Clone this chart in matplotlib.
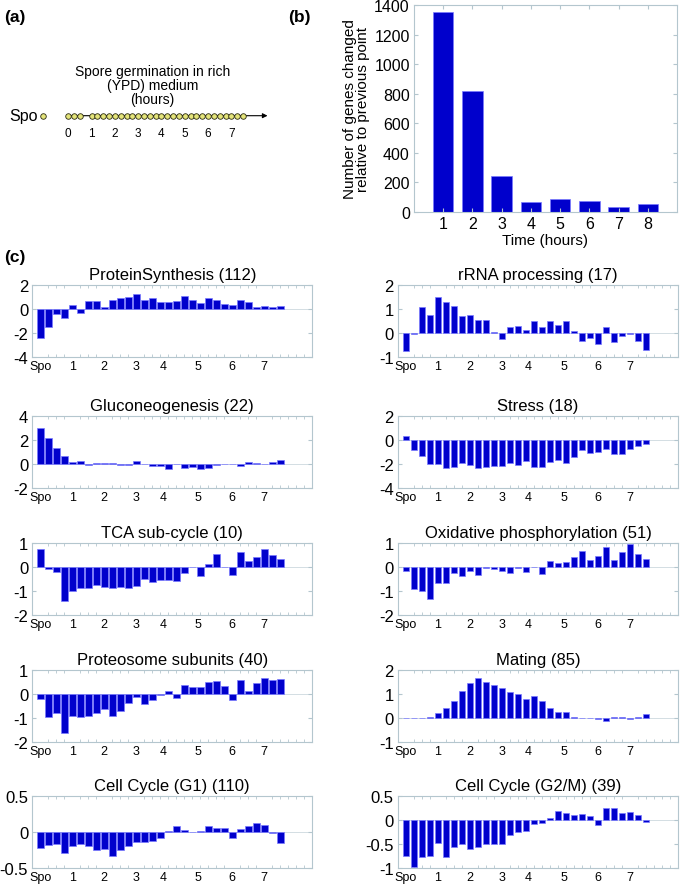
import numpy as np
import matplotlib
matplotlib.use('Agg')
from matplotlib import pyplot as plt

plt.rcParams['font.family'] = ['Liberation Sans', 'DejaVu Sans']

# ---- panel (a): sampling timeline ----
early_times = [0, 0.25, 0.5]
late_times = [1, 1.25, 1.5, 1.75, 2, 2.25, 2.5, 2.75, 3, 3.25, 3.5, 3.75,
              4, 4.25, 4.5, 4.75, 5, 5.25, 5.5, 5.75, 6, 6.25, 6.5, 6.75,
              7, 7.25, 7.5]
timeline_hours = [0, 1, 2, 3, 4, 5, 6, 7]

# ---- panel (b): genes changed ----
hours_b = [1, 2, 3, 4, 5, 6, 7, 8]
genes_changed = [1356, 820, 244, 66, 90, 72, 36, 54]

# ---- panel (c): functional groups ----
tick_pos = [1, 5, 9, 13, 16.3, 20.7, 25, 29]
tick_labels = ['Spo', '1', '2', '3', '4', '5', '6', '7']

protein_synthesis = [-2.41, -1.5, -0.45, -0.77, 0.36, -0.3, 0.68, 0.68, 0.2, 0.74,
                     0.88, 1.04, 1.26, 0.77, 0.93, 0.6, 0.55, 0.63, 1.1, 0.77,
                     0.47, 0.88, 0.71, 0.41, 0.3, 0.77, 0.55, 0.14, 0.27, 0.14, 0.27]
rrna_processing = [-0.75, -0.03, 1.08, 0.77, 1.5, 1.3, 1.13, 0.69, 0.76, 0.56,
                   0.56, 0.05, -0.25, 0.24, 0.31, 0.13, 0.52, 0.24, 0.49, 0.35,
                   0.48, 0.08, -0.32, -0.21, -0.44, 0.24, -0.39, -0.14, -0.06, -0.32, -0.72]
gluconeogenesis = [3.03, 2.14, 1.3, 0.69, 0.14, 0.28, -0.06, 0.1, 0.1, 0.05,
                   -0.1, -0.08, 0.28, 0, -0.15, -0.15, -0.4, 0, -0.3, -0.25,
                   -0.4, -0.35, -0.05, 0, 0, -0.15, 0.15, 0.1, 0, 0.2, 0.35]
stress = [0.37, -0.86, -1.37, -1.97, -2.03, -2.34, -2.23, -1.89, -2.11, -2.34,
          -2.26, -2.2, -2.14, -1.91, -2.11, -1.74, -2.26, -2.26, -1.8, -1.66,
          -1.91, -1.4, -0.86, -1.09, -1.03, -0.77, -1.17, -1.17, -0.71, -0.51, -0.37]
tca = [0.76, -0.1, -0.2, -1.42, -0.99, -0.86, -0.88, -0.76, -0.85, -0.88,
       -0.82, -0.89, -0.78, -0.49, -0.62, -0.53, -0.56, -0.57, -0.25, 0,
       -0.36, 0.14, 0.53, 0.02, -0.35, 0.63, 0.24, 0.4, 0.76, 0.49, 0.33]
oxphos = [-0.17, -0.91, -0.99, -1.33, -0.65, -0.65, -0.25, -0.36, -0.15, -0.32,
          -0.03, -0.1, -0.17, -0.25, -0.03, -0.19, 0, -0.29, 0.25, 0.17,
          0.2, 0.43, 0.65, 0.29, 0.46, 0.83, 0.29, 0.61, 0.94, 0.55, 0.32]
proteosome = [-0.19, -0.97, -0.81, -1.64, -0.93, -0.97, -0.9, -0.81, -0.61, -0.93,
              -0.69, -0.39, -0.14, -0.43, -0.27, -0.03, 0.14, -0.17, 0.36, 0.29,
              0.29, 0.5, 0.53, 0.33, -0.27, 0.6, 0.13, 0.47, 0.67, 0.57, 0.61]
mating = [-0.02, 0, -0.02, 0.03, 0.21, 0.43, 0.7, 1.12, 1.45, 1.68,
          1.51, 1.36, 1.23, 1.09, 1.0, 0.8, 0.9, 0.7, 0.41, 0.24,
          0.24, 0.03, 0, 0, -0.03, -0.14, 0.06, 0.03, -0.03, 0.06, 0.17]
cell_cycle_g1 = [-0.22, -0.18, -0.17, -0.29, -0.2, -0.17, -0.2, -0.25, -0.24, -0.34,
                 -0.25, -0.2, -0.14, -0.14, -0.12, -0.08, 0.01, 0.08, 0.03, 0,
                 0.01, 0.09, 0.05, 0.05, -0.08, 0.04, 0.08, 0.13, 0.1, -0.01, -0.15]
cell_cycle_g2m = [-0.75, -0.98, -0.78, -0.75, -0.48, -0.78, -0.57, -0.49, -0.61, -0.57,
                  -0.49, -0.49, -0.51, -0.31, -0.26, -0.22, -0.08, -0.07, 0.05, 0.19,
                  0.14, 0.1, 0.12, 0.09, -0.11, 0.26, 0.26, 0.14, 0.16, 0.1, -0.04]

panels = [
    ('ProteinSynthesis (112)', protein_synthesis, (-4, 2), [-4, -2, 0, 2], ['-4', '-2', '0', '2']),
    ('rRNA processing (17)', rrna_processing, (-1, 2), [-1, 0, 1, 2], ['-1', '0', '1', '2']),
    ('Gluconeogenesis (22)', gluconeogenesis, (-2, 4), [-2, 0, 2, 4], ['-2', '0', '2', '4']),
    ('Stress (18)', stress, (-4, 2), [-4, -2, 0, 2], ['-4', '-2', '0', '2']),
    ('TCA sub-cycle (10)', tca, (-2, 1), [-2, -1, 0, 1], ['-2', '-1', '0', '1']),
    ('Oxidative phosphorylation (51)', oxphos, (-2, 1), [-2, -1, 0, 1], ['-2', '-1', '0', '1']),
    ('Proteosome subunits (40)', proteosome, (-2, 1), [-2, -1, 0, 1], ['-2', '-1', '0', '1']),
    ('Mating (85)', mating, (-1, 2), [-1, 0, 1, 2], ['-1', '0', '1', '2']),
    ('Cell Cycle (G1) (110)', cell_cycle_g1, (-0.5, 0.5), [-0.5, 0, 0.5], ['-0.5', '0', '0.5']),
    ('Cell Cycle (G2/M) (39)', cell_cycle_g2m, (-1, 0.5), [-1, -0.5, 0, 0.5], ['-1', '-0.5', '0', '0.5']),
]

W, H = 685, 887
BAR = '#0000cc'
BAR_EDGE = '#7a7aff'
FRAME = '#b4c6ce'

fig = plt.figure(figsize=(W / 100, H / 100), dpi=100)


def px_axes(left, top, width, height):
    return fig.add_axes([left / W, 1 - (top + height) / H, width / W, height / H])


def style_frame(ax):
    for s in ax.spines.values():
        s.set_color(FRAME)
        s.set_linewidth(0.8)


# ---- (a) ----
ax_a = px_axes(0, 50, 340, 100)
ax_a.set_xlim(-2.93, 11.66)
ax_a.set_ylim(0, 1)
ax_a.axis('off')
y_line = 0.333
ax_a.annotate('', xy=(8.55, y_line), xytext=(0, y_line),
              arrowprops=dict(arrowstyle='-|>', color='black', lw=0.8,
                              mutation_scale=7, shrinkA=0, shrinkB=0))
all_times = early_times + late_times
ax_a.scatter(all_times, [y_line] * len(all_times), s=16, facecolor='#e4e47a',
             edgecolor='#2a2a10', linewidth=0.6, zorder=3)
ax_a.scatter([-1.07], [y_line], s=16, facecolor='#e4e47a',
             edgecolor='#2a2a10', linewidth=0.6, zorder=3)
ax_a.text(-1.33, y_line, 'Spo', ha='right', va='center', fontsize=11.5)
for h in timeline_hours:
    ax_a.text(h, 0.16, str(h), ha='center', va='center', fontsize=8.5)
ax_a.text(3.62, 0.43, 'Spore germination in rich\n(YPD) medium\n(hours)',
          ha='center', va='bottom', fontsize=10, linespacing=1.0)

# ---- (b) ----
ax_b = px_axes(414, 6, 263, 207)
ax_b.bar(hours_b, genes_changed, width=0.7, color=BAR, edgecolor=BAR_EDGE, linewidth=0.5)
ax_b.set_xlim(0, 9)
ax_b.set_ylim(0, 1400)
ax_b.set_xticks(hours_b)
ax_b.set_yticks([0, 200, 400, 600, 800, 1000, 1200, 1400])
ax_b.tick_params(direction='in', top=True, right=True, length=3, color=FRAME,
                 labelsize=11.5, pad=3)
ax_b.set_xlabel('Time (hours)', fontsize=11, labelpad=1)
ax_b.set_ylabel('Number of genes changed\nrelative to previous point', fontsize=11,
                labelpad=3, linespacing=0.95)
style_frame(ax_b)

# ---- (c) ----
lefts = [32.3, 398]
tops = [286, 417, 544, 671, 797]
xpos = np.arange(1, 32)
for i, (title, vals, ylim, yt, ytl) in enumerate(panels):
    ax = px_axes(lefts[i % 2], tops[i // 2], 280, 72)
    ax.axhline(0, color='#ccd8de', lw=0.6, zorder=0)
    ax.bar(xpos, vals, width=0.85, color=BAR, edgecolor=BAR_EDGE, linewidth=0.5, zorder=2)
    ax.set_xlim(0, 35)
    ax.set_ylim(*ylim)
    ax.set_xticks(tick_pos)
    ax.set_xticklabels(tick_labels)
    ax.set_xticks(np.arange(1, 35), minor=True)
    ax.tick_params(axis='x', which='major', length=0, labelsize=9, pad=2)
    ax.tick_params(axis='x', which='minor', direction='in', top=True, bottom=True,
                   length=2.5, color=FRAME, width=0.6)
    ax.set_yticks(yt)
    ax.set_yticklabels(ytl)
    ax.tick_params(axis='y', direction='in', left=True, right=True, length=3,
                   color=FRAME, labelsize=12, pad=3)
    ax.set_title(title, fontsize=12, pad=4)
    style_frame(ax)

# panel letters
fig.text(4 / W, 1 - 17.5 / H, '(a)', fontsize=12.5, fontweight='bold', va='center')
fig.text(288 / W, 1 - 17.5 / H, '(b)', fontsize=12.5, fontweight='bold', va='center')
fig.text(4 / W, 1 - 258 / H, '(c)', fontsize=12.5, fontweight='bold', va='center')

plt.savefig('out.png', dpi=100)
